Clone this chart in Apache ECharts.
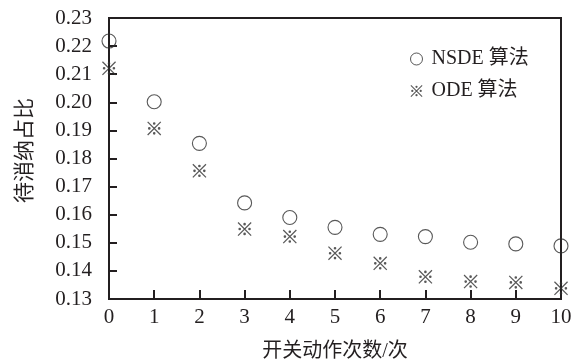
<!DOCTYPE html>
<html>
<head>
<meta charset="utf-8">
<script src="https://cdn.jsdelivr.net/npm/echarts@6/dist/echarts.min.js"></script>
<style>
  html, body { margin: 0; padding: 0; background: #fff; }
  #chart { width: 574px; height: 363px; }
</style>
</head>
<body>
<div id="chart"></div>
<script>
// Switching operations (x) and remaining share to absorb (y) for two algorithms
const switchCounts = [0, 1, 2, 3, 4, 5, 6, 7, 8, 9, 10];
const nsdeValues = [0.2218, 0.2002, 0.1854, 0.1642, 0.1590, 0.1555, 0.1530, 0.1522, 0.1502, 0.1496, 0.1489];
const odeValues  = [0.2121, 0.1907, 0.1756, 0.1549, 0.1522, 0.1463, 0.1427, 0.1379, 0.1362, 0.1359, 0.1338];
const seriesNames = ['NSDE 算法', 'ODE 算法'];
const xAxisName = '开关动作次数/次';
const yAxisName = '待消纳占比';

// Reference-mark glyph (※): two crossing strokes and four dots
const refMarkPath = 'path://M3 2L18 17L17 18L2 3Z' +
  'M17 2L18 3L3 18L2 17Z' +
  'M8.5 4.4A1.5 1.5 0 1 0 11.5 4.4A1.5 1.5 0 1 0 8.5 4.4Z' +
  'M2.9 10A1.5 1.5 0 1 0 5.9 10A1.5 1.5 0 1 0 2.9 10Z' +
  'M14.1 10A1.5 1.5 0 1 0 17.1 10A1.5 1.5 0 1 0 14.1 10Z' +
  'M8.5 15.6A1.5 1.5 0 1 0 11.5 15.6A1.5 1.5 0 1 0 8.5 15.6Z';

const serif = '"Liberation Serif", "Noto Sans CJK SC", serif';
const ink = '#231f20';
const mark = '#2e2e2e';

const chart = echarts.init(document.getElementById('chart'));
chart.setOption({
  animation: false,
  backgroundColor: '#fff',
  grid: {
    left: 109, right: 13, top: 18, bottom: 64,
    outerBoundsMode: 'none', containLabel: false,
    show: true, borderColor: ink, borderWidth: 2, backgroundColor: 'transparent'
  },
  legend: {
    orient: 'vertical',
    left: 405, top: 44,
    itemWidth: 12, itemHeight: 12, itemGap: 12,
    textStyle: { fontFamily: serif, fontSize: 20, color: ink, padding: [0, 0, 0, 4] },
    data: [
      { name: seriesNames[0], icon: 'circle',
        itemStyle: { color: 'transparent', borderColor: mark, borderWidth: 1 } },
      { name: seriesNames[1], icon: refMarkPath,
        itemStyle: { color: mark, borderWidth: 0 } }
    ]
  },
  xAxis: {
    type: 'value', min: 0, max: 10, interval: 1,
    name: xAxisName, nameLocation: 'middle', nameGap: 43,
    nameTextStyle: { fontFamily: serif, fontSize: 20, color: ink },
    axisLine: { show: true, onZero: false, lineStyle: { color: ink, width: 2 } },
    axisTick: { show: true, inside: true, length: 9, lineStyle: { color: ink, width: 2 } },
    axisLabel: { fontFamily: serif, fontSize: 21, color: ink, margin: 8 },
    splitLine: { show: false }
  },
  yAxis: {
    type: 'value', min: 0.13, max: 0.23, interval: 0.01,
    name: yAxisName, nameLocation: 'middle', nameGap: 73,
    nameTextStyle: { fontFamily: serif, fontSize: 21, color: ink, padding: [0, 0, 0, 16] },
    axisLine: { show: true, onZero: false, lineStyle: { color: ink, width: 2 } },
    axisTick: { show: true, inside: true, length: 8, lineStyle: { color: ink, width: 2 } },
    axisLabel: { fontFamily: serif, fontSize: 21, color: ink, margin: 17,
      formatter: v => v.toFixed(2) },
    splitLine: { show: false }
  },
  series: [
    {
      name: seriesNames[0], type: 'scatter', symbol: 'circle', symbolSize: 14,
      itemStyle: { color: 'transparent', borderColor: mark, borderWidth: 1.1 },
      data: switchCounts.map((x, i) => [x, nsdeValues[i]]), z: 3
    },
    {
      name: seriesNames[1], type: 'scatter', symbol: refMarkPath, symbolSize: 14,
      itemStyle: { color: mark },
      data: switchCounts.map((x, i) => [x, odeValues[i]]), z: 3
    }
  ]
});
</script>
</body>
</html>
